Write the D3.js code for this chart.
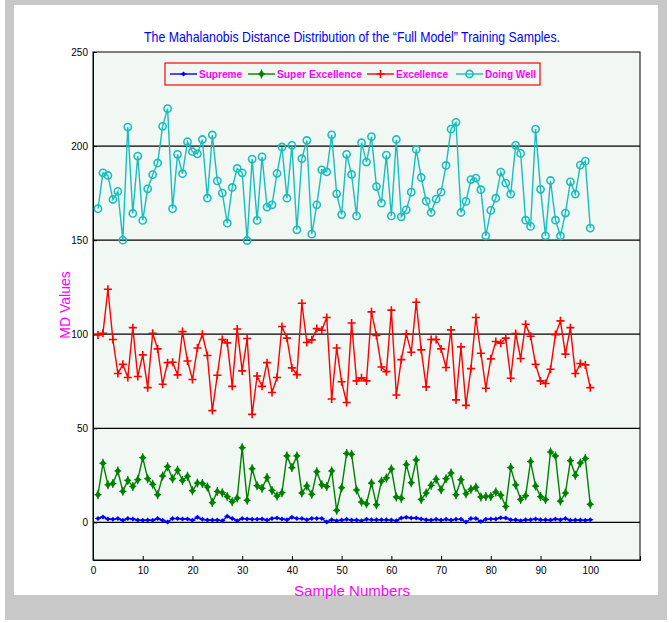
<!DOCTYPE html>
<html>
<head>
<meta charset="utf-8">
<script src="https://cdn.jsdelivr.net/npm/d3@7"></script>
<style>
  body { margin: 0; background: #fff; }
  svg { display: block; font-family: "Liberation Sans", Arial, sans-serif; }
</style>
</head>
<body>
<div id="chart"></div>
<script>
// sample index 1..100
var samples = d3.range(1, 101);

var supreme = [2.1,2.8,1.8,1.6,2.0,1.1,2.1,1.8,1.2,1.1,1.2,1.1,2.0,1.1,0.2,2.1,2.0,1.8,1.8,1.1,
  2.7,1.6,1.2,1.2,1.2,0.9,3.2,2.0,0.9,2.0,1.8,1.6,1.6,1.8,1.2,2.0,2.3,1.8,1.4,2.7,
  2.0,2.0,1.4,2.1,2.1,2.1,0.2,1.4,0.9,1.2,1.6,1.2,1.2,0.9,1.6,1.4,1.4,1.4,1.4,1.2,
  0.9,2.3,2.7,2.3,2.3,1.8,1.4,1.2,1.6,1.2,1.6,1.2,1.6,1.6,0.2,2.0,2.1,0.4,1.6,1.8,
  1.8,2.5,2.3,1.4,1.4,0.9,1.4,1.4,1.8,1.4,1.4,1.2,1.8,1.4,2.0,1.1,1.2,1.2,1.1,1.4];

var superExcellence = [14.7,31.4,20,20.6,27.3,16.5,22.3,19.1,22.7,34.4,23.2,20.2,14.7,24.6,29.6,23.2,27.7,22.3,24.5,16.8,
  20.9,20.7,18.8,10.5,16.4,15.8,13.7,11,12.9,39.7,11.7,28.5,19.5,18.1,23.8,17,14,15.8,35.3,29.1,
  35.3,15.6,19.3,14.9,26.9,20,19,27.3,6.4,18.4,36.6,36.2,17.2,10.8,9.9,20.9,9.4,21.8,23.6,28.4,
  13.5,12.8,30.7,21.1,33.2,12.2,15.6,19.7,22.9,17.4,23.2,26.2,14.7,22.7,15.2,17.6,18.6,13.5,13.8,13.8,
  16.1,14.4,8.5,29.1,19.9,12.2,14.2,32.3,19.3,13.7,12.1,37.4,35.3,11.3,15.6,32.8,25,31.6,33.9,9.6];

var excellence = [99.6,100.5,123.9,97.2,79.1,84,77,103.5,77.5,89,71.6,100.5,92.2,73.4,84.9,85.1,78.4,101.4,85.8,75.9,
  92.7,100,88.7,59.4,78.2,97.2,95.4,72.3,102.8,80.5,97.7,57.4,77.8,72.3,84.9,69,77,104.1,97.9,82.1,
  78.5,116.5,95.6,97,103,102.1,108.9,65.6,92.7,74.7,63.7,106,75.2,76.8,75.2,111.9,99.3,82.6,80.1,112.8,
  67.7,86.5,100.2,90.4,117,91.7,72,97.2,97.2,92.2,82.3,102.3,65.1,93.3,62.2,81.7,108.9,89.9,71.3,86.9,
  96.1,95.2,97.9,76.6,100.4,87.1,105.3,98.9,84,75.2,73.8,81.4,99.8,107.1,89.4,103.5,79.1,84.4,83.7,71.6];

var doingWell = [166.7,185.8,184.4,171.6,175.9,150,210.1,164.2,194.7,160.5,177.3,184.8,191,210.5,219.9,166.7,195.6,185.3,202.3,197,
  195.9,203.5,172.3,205.9,181.5,175,159,178,188.1,185.8,149.8,193.1,160.5,194.3,167.6,168.8,185.5,199.5,172.3,200.4,
  155.5,193.3,203,153.2,168.8,187.4,186.3,206,174.6,163.6,195.6,184.9,162.9,201.8,191.5,205,178.5,169.7,195.2,162.9,
  203.5,162.4,166.1,175.5,198.2,183.3,170.7,164.7,171.8,175.5,189.7,209,212.6,164.7,170.6,182.2,183,176.8,152.3,165.8,
  172.3,186.2,180.3,174.5,200.4,196.1,160.6,157.3,209,177,152.3,181.7,160.6,152.3,164.4,181,174.5,189.9,192,156.4];

var seriesNames = ["Supreme", "Super Excellence", "Excellence", "Doing Well"];
var seriesColors = ["#0000ff", "#008000", "#ff0000", "#17bebe"];
var xTicks = d3.range(0, 101, 10);
var yTicks = [0, 50, 100, 150, 200, 250];

var series = [supreme, superExcellence, excellence, doingWell].map(function(vals, i) {
  return { name: seriesNames[i], color: seriesColors[i], values: vals.map(function(v, j) { return { x: samples[j], y: v }; }) };
});

var W = 672, H = 623;
var margin = { top: 52, right: 32, bottom: 63, left: 93 },
    width = W - margin.left - margin.right,
    height = H - margin.top - margin.bottom;

var svg = d3.select("#chart").append("svg")
  .attr("width", W).attr("height", H);

// figure background
svg.append("rect").attr("x", 0).attr("y", 0).attr("width", W).attr("height", H).attr("fill", "#fff");
svg.append("rect").attr("x", 5).attr("y", 0).attr("width", 662).attr("height", 620).attr("fill", "#c8c8c8");
svg.append("rect").attr("x", 14).attr("y", 5).attr("width", 644).attr("height", 590).attr("fill", "#ffffff");

var g = svg.append("g").attr("transform", "translate(" + margin.left + "," + margin.top + ")");

var x = d3.scaleLinear().domain([0, 110]).range([0, width]);
var y = d3.scaleLinear().domain([-20, 250]).range([height, 0]);

g.append("rect").attr("width", width).attr("height", height).attr("fill", "#f1f7f3");

// horizontal grid
g.selectAll(".grid").data(yTicks.filter(function(d) { return d < 250; }))
  .enter().append("line")
  .attr("x1", 0).attr("x2", width)
  .attr("y1", function(d) { return y(d); }).attr("y2", function(d) { return y(d); })
  .attr("stroke", "#000").attr("stroke-width", 1.2);

// axes
var xAxis = g.append("g").attr("transform", "translate(0," + height + ")")
  .call(d3.axisBottom(x).tickValues(xTicks).tickSize(-4).tickPadding(7));
var yAxis = g.append("g")
  .call(d3.axisLeft(y).tickValues(yTicks).tickSize(-4).tickPadding(5));
[xAxis, yAxis].forEach(function(a) {
  a.selectAll("text").attr("font-size", 10).attr("fill", "#000").attr("font-family", "Liberation Sans, Arial, sans-serif");
  a.select(".domain").attr("stroke", "#000");
});
g.append("rect").attr("width", width).attr("height", height)
  .attr("fill", "none").attr("stroke", "#000").attr("stroke-width", 1);

var line = d3.line().x(function(d) { return x(d.x); }).y(function(d) { return y(d.y); });

function drawMarker(sel, name, color) {
  if (name === "Doing Well") {
    sel.append("circle").attr("r", 3.6).attr("fill", "none").attr("stroke", color).attr("stroke-width", 1.6);
  } else if (name === "Excellence") {
    sel.append("path").attr("d", "M-4,0H4M0,-4V4").attr("stroke", color).attr("stroke-width", 1.6);
  } else if (name === "Super Excellence") {
    sel.append("path").attr("d", "M0,-4L3,0L0,4L-3,0Z").attr("fill", color);
    sel.append("path").attr("d", "M-3.5,0H3.5M0,-4.5V4.5").attr("stroke", color).attr("stroke-width", 1.2);
  } else {
    sel.append("path").attr("d", "M0,-2.5L2.5,0L0,2.5L-2.5,0Z").attr("fill", color);
    sel.append("path").attr("d", "M-3,0H3").attr("stroke", color).attr("stroke-width", 1);
  }
}

series.forEach(function(s) {
  g.append("path").datum(s.values)
    .attr("fill", "none").attr("stroke", s.color).attr("stroke-width", 1.4)
    .attr("d", line);
  g.selectAll(null).data(s.values).enter().append("g")
    .attr("transform", function(d) { return "translate(" + x(d.x) + "," + y(d.y) + ")"; })
    .each(function() { drawMarker(d3.select(this), s.name, s.color); });
});

// legend
var legend = svg.append("g").attr("transform", "translate(165,63)");
legend.append("rect").attr("width", 375).attr("height", 22)
  .attr("fill", "#f1f7f3").attr("stroke", "#ff0000").attr("stroke-width", 1.2);
var legendX = [5, 83, 202, 291];
var legendTextW = [43, 85, 52, 51];
series.forEach(function(s, i) {
  var item = legend.append("g").attr("transform", "translate(" + legendX[i] + ",11)");
  item.append("line").attr("x1", 0).attr("x2", 27).attr("stroke", s.color).attr("stroke-width", 1.4);
  drawMarker(item.append("g").attr("transform", "translate(13.5,0)"), s.name, s.color);
  item.append("text").attr("x", 29).attr("dy", "0.35em")
    .attr("font-size", 11).attr("font-weight", "bold").attr("fill", "#ff00ff")
    .attr("textLength", legendTextW[i]).attr("lengthAdjust", "spacingAndGlyphs")
    .text(s.name);
});

// title and labels
svg.append("text").attr("x", 352).attr("y", 42).attr("text-anchor", "middle")
  .attr("font-size", 15).attr("fill", "#0000ff")
  .attr("textLength", 416).attr("lengthAdjust", "spacingAndGlyphs")
  .text("The Mahalanobis Distance Distribution of the \u201cFull Model\u201d Training Samples.");
svg.append("text").attr("x", 352).attr("y", 596).attr("text-anchor", "middle")
  .attr("font-size", 15).attr("fill", "#ff00ff")
  .text("Sample Numbers");
svg.append("text").attr("transform", "translate(70,305) rotate(-90)").attr("text-anchor", "middle")
  .attr("font-size", 14).attr("fill", "#ff00ff")
  .text("MD Values");
</script>
</body>
</html>
